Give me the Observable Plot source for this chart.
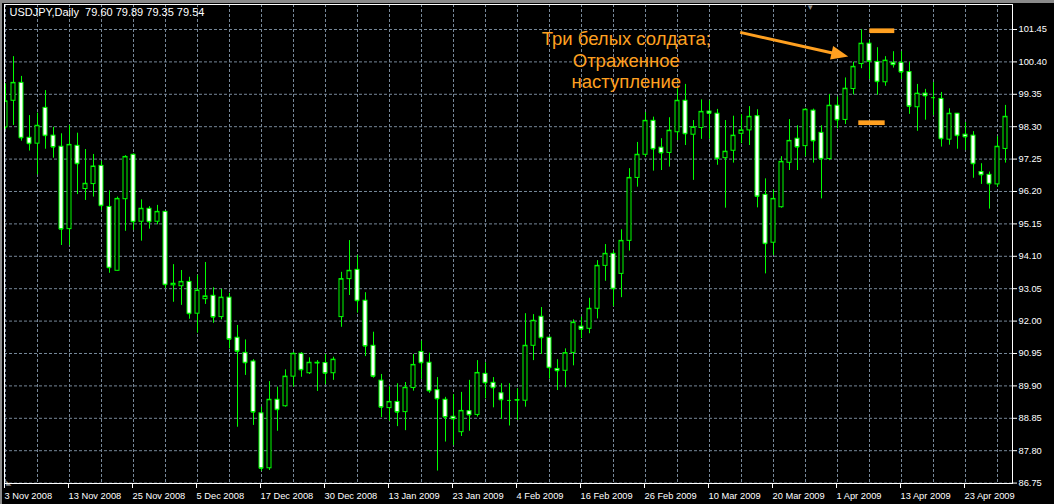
<!DOCTYPE html>
<html><head><meta charset="utf-8">
<script src="https://cdn.jsdelivr.net/npm/d3@7"></script>
<script src="https://cdn.jsdelivr.net/npm/@observablehq/plot@0.6"></script>
<style>
html,body{margin:0;padding:0;background:#000;}
#wrap{position:relative;width:1054px;height:504px;overflow:hidden;background:#000;}
#wrap svg{position:absolute;left:0;top:0;}
.bt{position:absolute;left:0;top:0;width:1054px;height:3px;background:#8a8a8a;}
.bl{position:absolute;left:0;top:0;width:2px;height:504px;background:#8a8a8a;}
</style></head><body><div id="wrap"><div class="bt"></div><div class="bl"></div></div>
<script>
const title = "USDJPY,Daily\u00a0 79.60 79.89 79.35 79.54";
const opens = [98.28,99.14,99.72,97.94,97.75,98.91,98.01,97.65,94.98,97.68,96.28,96.44,97.03,95.70,93.63,95.95,97.39,95.22,95.64,95.22,95.54,93.16,93.13,93.27,92.24,92.71,92.82,92.13,92.76,91.46,90.97,90.69,89.01,87.23,89.45,89.24,90.20,90.94,90.31,90.63,90.64,90.31,92.13,93.36,93.66,92.66,91.20,90.07,89.18,89.38,89.05,89.83,91.00,90.65,89.76,89.45,88.90,88.40,89.08,88.96,90.29,90.00,89.66,89.43,89.43,89.42,91.20,92.14,91.46,90.45,90.39,90.97,91.82,91.75,92.40,93.79,94.18,93.53,94.60,96.64,97.39,98.49,97.62,97.45,98.12,99.14,98.04,98.26,98.79,98.72,97.28,97.52,98.07,98.18,98.64,96.09,94.54,95.69,97.13,97.91,97.67,98.82,98.10,97.25,98.98,98.52,99.52,100.33,100.99,100.40,99.74,100.37,100.37,100.07,98.93,99.37,99.24,99.20,97.88,98.72,98.04,98.01,96.83,96.74,96.43,97.58];
const highs = [99.69,100.57,99.93,98.66,98.74,99.47,98.28,98.07,98.34,98.09,97.56,97.40,97.18,96.22,96.02,97.36,97.42,95.93,95.71,95.75,95.56,93.83,93.64,93.42,93.48,93.90,93.08,93.03,92.90,91.86,91.39,90.75,89.21,90.04,89.86,90.42,90.98,90.98,90.81,90.72,90.92,90.83,93.58,94.61,94.13,92.92,91.64,90.27,89.88,89.97,90.01,90.92,91.35,90.96,90.17,89.53,89.62,89.69,90.08,90.72,90.65,90.17,89.97,89.97,89.81,92.24,92.21,92.44,91.48,90.75,91.10,92.04,92.13,92.74,93.96,94.48,94.27,94.96,96.94,97.79,98.76,98.61,97.91,98.59,99.53,99.67,98.50,99.17,99.14,98.86,98.50,98.64,98.69,98.95,98.85,96.61,96.25,97.33,98.53,98.33,98.88,98.87,98.33,99.34,99.26,99.88,100.39,101.44,101.09,100.86,100.57,100.73,100.73,100.39,99.67,99.51,99.73,99.41,98.88,98.73,98.43,98.14,97.10,96.83,97.98,98.99];
const lows = [98.21,98.34,97.83,97.51,96.74,97.57,97.28,94.45,94.45,96.10,95.91,96.02,95.58,93.55,93.62,94.91,94.94,94.59,94.98,95.12,93.05,92.61,92.51,92.06,91.61,92.54,91.93,92.04,91.10,88.56,90.24,88.62,87.13,87.16,88.43,89.21,89.86,90.18,90.27,89.72,89.94,90.08,91.80,92.83,92.26,90.85,90.15,88.87,88.76,88.58,88.45,89.73,90.11,89.66,87.14,88.08,87.97,88.26,88.43,88.89,89.48,89.19,88.81,88.60,88.78,89.21,90.72,90.92,90.12,89.75,89.84,90.55,91.43,91.59,92.07,93.29,92.47,92.76,94.27,96.34,97.31,96.86,96.88,96.99,97.85,97.69,96.56,97.89,97.89,97.05,95.66,97.12,97.75,97.69,95.67,93.53,94.13,95.66,96.88,96.88,97.33,97.12,95.96,97.20,98.23,98.37,99.33,100.18,99.83,99.32,99.61,100.20,99.83,98.70,98.15,98.51,98.66,97.64,97.70,97.57,97.53,96.63,96.43,95.63,96.34,97.12];
const closes = [99.12,99.72,97.94,97.75,98.33,98.01,97.64,94.98,97.71,97.10,96.45,97.01,95.74,93.73,95.96,97.32,95.22,95.64,95.22,95.54,93.18,93.21,93.27,92.24,92.99,92.80,92.13,92.76,91.41,91.02,90.65,89.05,87.23,89.45,89.13,90.20,90.94,90.42,90.65,90.65,90.31,90.75,93.36,93.63,92.66,91.19,90.21,89.21,89.38,89.05,89.84,90.58,90.65,89.74,89.48,88.89,88.83,89.09,88.96,90.32,90.00,89.84,89.45,89.43,89.44,91.20,92.01,91.46,90.49,90.39,90.96,91.95,91.73,92.40,93.79,94.18,93.05,94.60,96.64,97.39,98.49,97.58,97.45,98.17,99.14,98.07,98.28,98.78,98.73,97.27,97.49,98.01,98.18,98.62,96.04,94.51,95.96,97.16,97.84,97.64,98.85,97.84,97.26,98.98,98.52,99.53,100.24,100.99,100.42,99.76,100.44,100.31,100.07,98.96,99.37,99.30,99.24,97.91,98.72,98.01,97.97,97.10,96.74,96.45,97.65,98.62];

const tickIndex = [0,8,16,24,32,40,48,56,64,72,80,88,96,104,112,120];
const tickLabels = ["3 Nov 2008","13 Nov 2008","25 Nov 2008","5 Dec 2008","17 Dec 2008","30 Dec 2008","13 Jan 2009","23 Jan 2009","4 Feb 2009","16 Feb 2009","26 Feb 2009","10 Mar 2009","20 Mar 2009","1 Apr 2009","13 Apr 2009","23 Apr 2009"];
const priceTicks = [86.75,87.80,88.85,89.90,90.95,92.00,93.05,94.10,95.15,96.20,97.25,98.30,99.35,100.40,101.45];
const gridIndex = d3.range(0, 126, 4);

const annotLabels = ["Три белых солдата;", "Отраженное", "наступление"];
const annotPrice = [101.14, 100.44, 99.75];
const annotBar = 77.6;
const arrowBars = [91.9, 105.4];
const arrowPrices = [101.34, 100.56];
const levelPrices = [101.41, 98.43];
const levelFrom = [108.04, 106.66];
const levelTo = [111.16, 109.96];

const LIME = "#00ff00", ORANGE = "#ffa020", GRID = "#778899";
const FONT = "'Liberation Sans', Arial, sans-serif";

const candles = opens.map((o, i) => ({i, open: o, high: highs[i], low: lows[i], close: closes[i]}));
const annots = annotLabels.map((t, j) => ({t, i: annotBar, p: annotPrice[j]}));
const levels = levelPrices.map((p, j) => ({p, a: levelFrom[j], b: levelTo[j]}));

function arrowMark(index, scales) {
  const sx = scales.x, sy = scales.y;
  const x1 = sx(arrowBars[0]), y1 = sy(arrowPrices[0]);
  const x2 = sx(arrowBars[1]), y2 = sy(arrowPrices[1]);
  const dx = x2 - x1, dy = y2 - y1, len = Math.hypot(dx, dy);
  const ux = dx / len, uy = dy / len, hl = 17, hw = 7;
  const bx = x2 - ux * hl, by = y2 - uy * hl;
  const g = d3.create("svg:g");
  g.append("line").attr("x1", x1).attr("y1", y1).attr("x2", bx + ux * 2).attr("y2", by + uy * 2)
    .attr("stroke", ORANGE).attr("stroke-width", 3);
  g.append("path").attr("d", `M${x2},${y2}L${bx - uy * hw},${by + ux * hw}L${bx + uy * hw},${by - ux * hw}Z`)
    .attr("fill", ORANGE);
  return g.node();
}

const chart = Plot.plot({
  width: 1054, height: 504,
  marginLeft: 4, marginRight: 42, marginTop: 4, marginBottom: 21,
  style: {background: "transparent", color: "white", fontFamily: FONT, fontSize: "9.3px"},
  x: {type: "linear", domain: [-0.125, 125.875], axis: null},
  y: {type: "linear", domain: [86.737, 102.26], axis: null},
  marks: [
    Plot.gridY(priceTicks, {stroke: GRID, strokeOpacity: 1, strokeDasharray: "3,2"}),
    Plot.gridX(gridIndex, {stroke: GRID, strokeOpacity: 1, strokeDasharray: "3,2"}),
    Plot.ruleX(candles, {x: "i", y1: "low", y2: "high", stroke: LIME, clip: true}),
    Plot.rect(candles, {x1: d => d.i - 0.25, x2: d => d.i + 0.25, y1: "open", y2: "close",
      fill: d => d.close < d.open ? "white" : "black", stroke: LIME, clip: true}),
    Plot.ruleY(candles, {y: "close", x1: d => d.i - 0.25, x2: d => d.i + 0.25, stroke: LIME, clip: true}),
    Plot.ruleY(levels, {y: "p", x1: "a", x2: "b", stroke: ORANGE, strokeWidth: 4.7}),
    Plot.text(annots, {x: "i", y: "p", text: "t", fill: ORANGE, fontSize: 18.5, textAnchor: "middle", lineAnchor: "middle"}),
    arrowMark,
    Plot.text(["▼"], {x: () => 100.6, frameAnchor: "top", lineAnchor: "top", dy: 0, fill: "#8a8a8a", fontSize: 8}),
    Plot.text(["◣"], {frameAnchor: "bottom-left", lineAnchor: "bottom", textAnchor: "start", dx: 1, dy: 1, fill: "#8a8a8a", fontSize: 7}),
    Plot.frame({stroke: "white"}),
    Plot.axisY(priceTicks, {anchor: "right", tickSize: 4, tickPadding: 2, tickFormat: d => d.toFixed(2), color: "white"}),
    Plot.axisX(tickIndex, {anchor: "bottom", tickSize: 5, tickPadding: 4, textAnchor: "start", dx: -1,
      tickFormat: d => tickLabels[tickIndex.indexOf(d)], color: "white"}),
    Plot.text([title], {frameAnchor: "top-left", textAnchor: "start", lineAnchor: "top", dx: 5, dy: 4, fill: "white", fontSize: 11})
  ]
});
document.getElementById("wrap").prepend(chart);
</script>
</body></html>
